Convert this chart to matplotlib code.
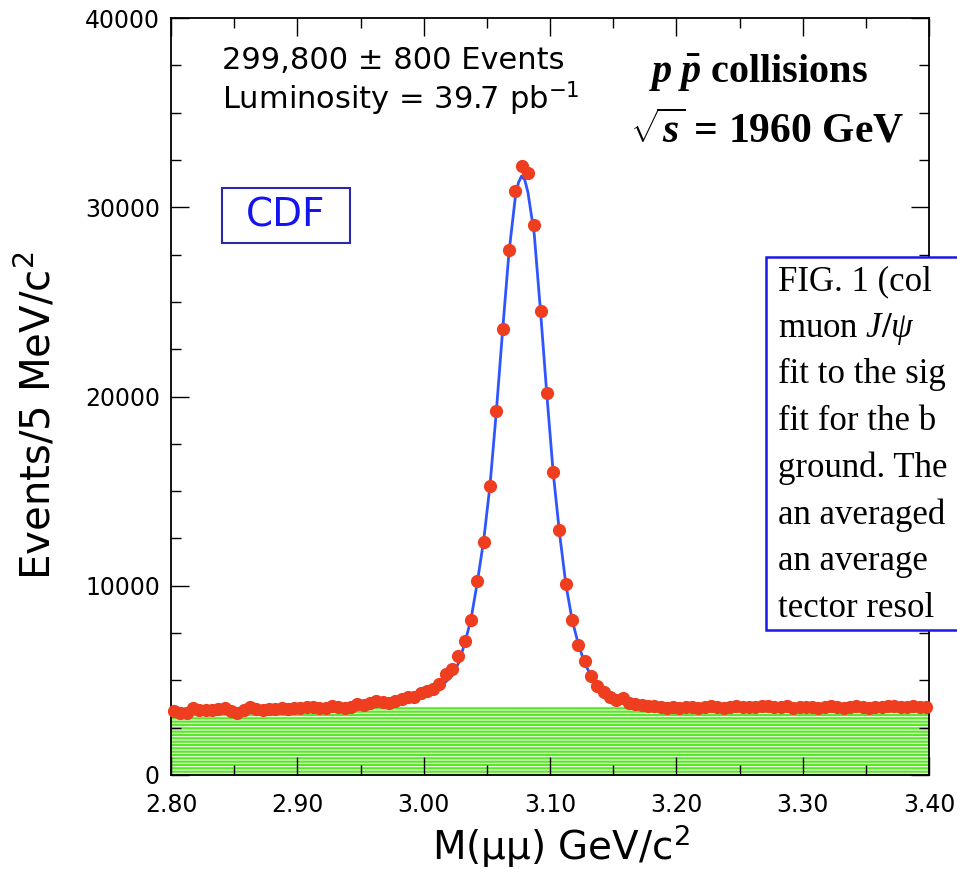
import numpy as np
import matplotlib.pyplot as plt
from matplotlib.patches import Rectangle
from matplotlib.ticker import MultipleLocator, FormatStrFormatter

plt.rcParams['font.family'] = 'DejaVu Sans'
plt.rcParams['mathtext.fontset'] = 'dejavusans'
# serif pieces use the "custom" math family
plt.rcParams['mathtext.rm'] = 'Liberation Serif:bold'
plt.rcParams['mathtext.it'] = 'Liberation Serif:italic'
plt.rcParams['mathtext.bf'] = 'Liberation Serif:bold:italic'
plt.rcParams['hatch.linewidth'] = 1.6

#%% data (events per 5 MeV bin)

counts = [3400, 3300, 3250, 3550, 3450, 3450, 3420, 3480, 3520, 3400,
          3280, 3430, 3580, 3480, 3450, 3500, 3470, 3520, 3500, 3560,
          3530, 3580, 3600, 3540, 3560, 3650, 3610, 3560, 3610, 3750,
          3700, 3790, 3910, 3870, 3820, 3910, 4000, 4100, 4140, 4320,
          4440, 4550, 4800, 5320, 5610, 6310, 7080, 8190, 10250, 12310,
          15270, 19230, 23570, 27740, 30860, 32180, 31810, 29060, 24520, 20180,
          16010, 12950, 10090, 8170, 6870, 6020, 5250, 4700, 4400, 4140,
          3960, 4050, 3790, 3740,
          3700, 3660, 3620, 3600, 3560, 3580, 3540, 3570, 3600, 3550,
          3580, 3620, 3590, 3560, 3600, 3640, 3590, 3610, 3570, 3630,
          3660, 3600, 3580, 3620, 3560, 3590, 3610, 3570, 3540, 3600,
          3630, 3590, 3560, 3580, 3620, 3600, 3530, 3580, 3610, 3650,
          3620, 3590, 3600, 3640, 3610, 3590]
mass = 2.8025 + 0.005 * np.arange(len(counts))  # bin centres

# fitted signal + background curve
fit_mass = [2.8025, 2.85, 2.90, 2.95, 2.98, 3.00, 3.0125, 3.0225, 3.0275, 3.0325,
            3.0375, 3.0425, 3.0475, 3.0525, 3.0575, 3.0625, 3.0675, 3.0725, 3.075, 3.0775,
            3.080, 3.0825, 3.0875, 3.0925, 3.0975, 3.1025, 3.1075, 3.1125, 3.1175, 3.1225,
            3.1275, 3.1325, 3.14, 3.15, 3.16, 3.175, 3.20, 3.30, 3.3975]
fit_counts = [3450, 3500, 3600, 3780, 3980, 4250, 4600, 5250, 5900, 6950,
              8250, 10200, 12400, 15300, 19200, 23500, 27600, 30500, 31300, 31650,
              31450, 30800, 28600, 24500, 20100, 16000, 12800, 10100, 8200, 6900,
              5900, 5250, 4650, 4200, 3950, 3750, 3650, 3600, 3600]

# background fit (green band)
bg_mass = [2.80, 3.40]
bg_counts = [3600, 3620]

# caption lines, as far as they show before the right edge
caption = ['FIG. 1 (col',
           r'muon $\mathit{J/\psi}$',
           'fit to the sig',
           'fit for the b',
           'ground. The',
           'an averaged',
           'an average',
           'tector resol']

#%% plot

fig = plt.figure(figsize=(9.57, 8.75), dpi=100)
ax = fig.add_axes([171/957, 100/875, 758/957, 757/875])

ax.fill_between(bg_mass, 0, bg_counts, facecolor='#f2fdec', edgecolor='#5be62c',
                hatch='-----', linewidth=0, zorder=1)
ax.plot(fit_mass, fit_counts, color='#2f55ff', lw=2, zorder=2)
ax.plot(mass, counts, 'o', color='#ee3d1f', markersize=9.5, markeredgewidth=0,
        zorder=3, clip_on=False)

ax.set_xlim(2.80, 3.40)
ax.set_ylim(0, 40000)
ax.xaxis.set_major_locator(MultipleLocator(0.1))
ax.xaxis.set_minor_locator(MultipleLocator(0.05))
ax.xaxis.set_major_formatter(FormatStrFormatter('%.2f'))
ax.yaxis.set_major_locator(MultipleLocator(10000))
ax.yaxis.set_minor_locator(MultipleLocator(2500))
ax.tick_params(which='both', direction='in', top=True, right=True, width=1)
ax.tick_params(which='major', length=13)
ax.tick_params(which='minor', length=7)
ax.tick_params(axis='x', which='major', pad=13, labelsize=17)
ax.tick_params(axis='y', which='major', pad=8, labelsize=17)
for s in ax.spines.values():
    s.set_linewidth(1.3)

ax.set_xlabel(u'M(\u03bc\u03bc) GeV/c$^2$', fontsize=28, labelpad=5)
ax.xaxis.set_label_coords(0.515, -0.063)
ax.set_ylabel(r'Events/5 MeV/c$^2$', fontsize=29)
ax.yaxis.set_label_coords(-0.147, 0.475)

# annotations
ax.text(0.067, 0.932, u'299,800 \u00b1 800 Events', transform=ax.transAxes,
        fontsize=22, va='baseline', ha='left')
ax.text(0.067, 0.879, r'Luminosity = 39.7 pb$^{-1}$', transform=ax.transAxes,
        fontsize=22, va='baseline', ha='left')

ax.text(0.775, 0.916, r'$\mathbf{p}\;\bar{\mathbf{p}}$ collisions', transform=ax.transAxes,
        fontsize=29, fontfamily='Liberation Serif', fontweight='bold',
        math_fontfamily='custom', ha='center', va='baseline')
ax.text(0.786, 0.836, r'$\sqrt{\mathbf{s}}$ = 1960 GeV', transform=ax.transAxes,
        fontsize=30, fontfamily='Liberation Serif', fontweight='bold',
        math_fontfamily='custom', ha='center', va='baseline')

ax.add_patch(Rectangle((0.0673, 0.7028), 0.1688, 0.0726, transform=ax.transAxes,
                       facecolor='white', edgecolor='#2a2aa8', lw=1.5, zorder=4))
ax.text(0.151, 0.739, 'CDF', transform=ax.transAxes, fontsize=28, color='#1414f0',
        ha='center', va='center', zorder=5)

# caption box, cut off at the right edge of the figure
fig.add_artist(Rectangle((766/957, (875-630)/875), 0.4, 373/875, transform=fig.transFigure,
                         facecolor='white', edgecolor='#1a1ae6', lw=1.8, zorder=5))
for i, line in enumerate(caption):
    fig.text(778/957, (875 - 290 - 46.7*i)/875, line, fontsize=25,
             fontfamily='Liberation Serif', math_fontfamily='custom',
             va='baseline', ha='left', zorder=6)

plt.savefig('out.png', dpi=100)
